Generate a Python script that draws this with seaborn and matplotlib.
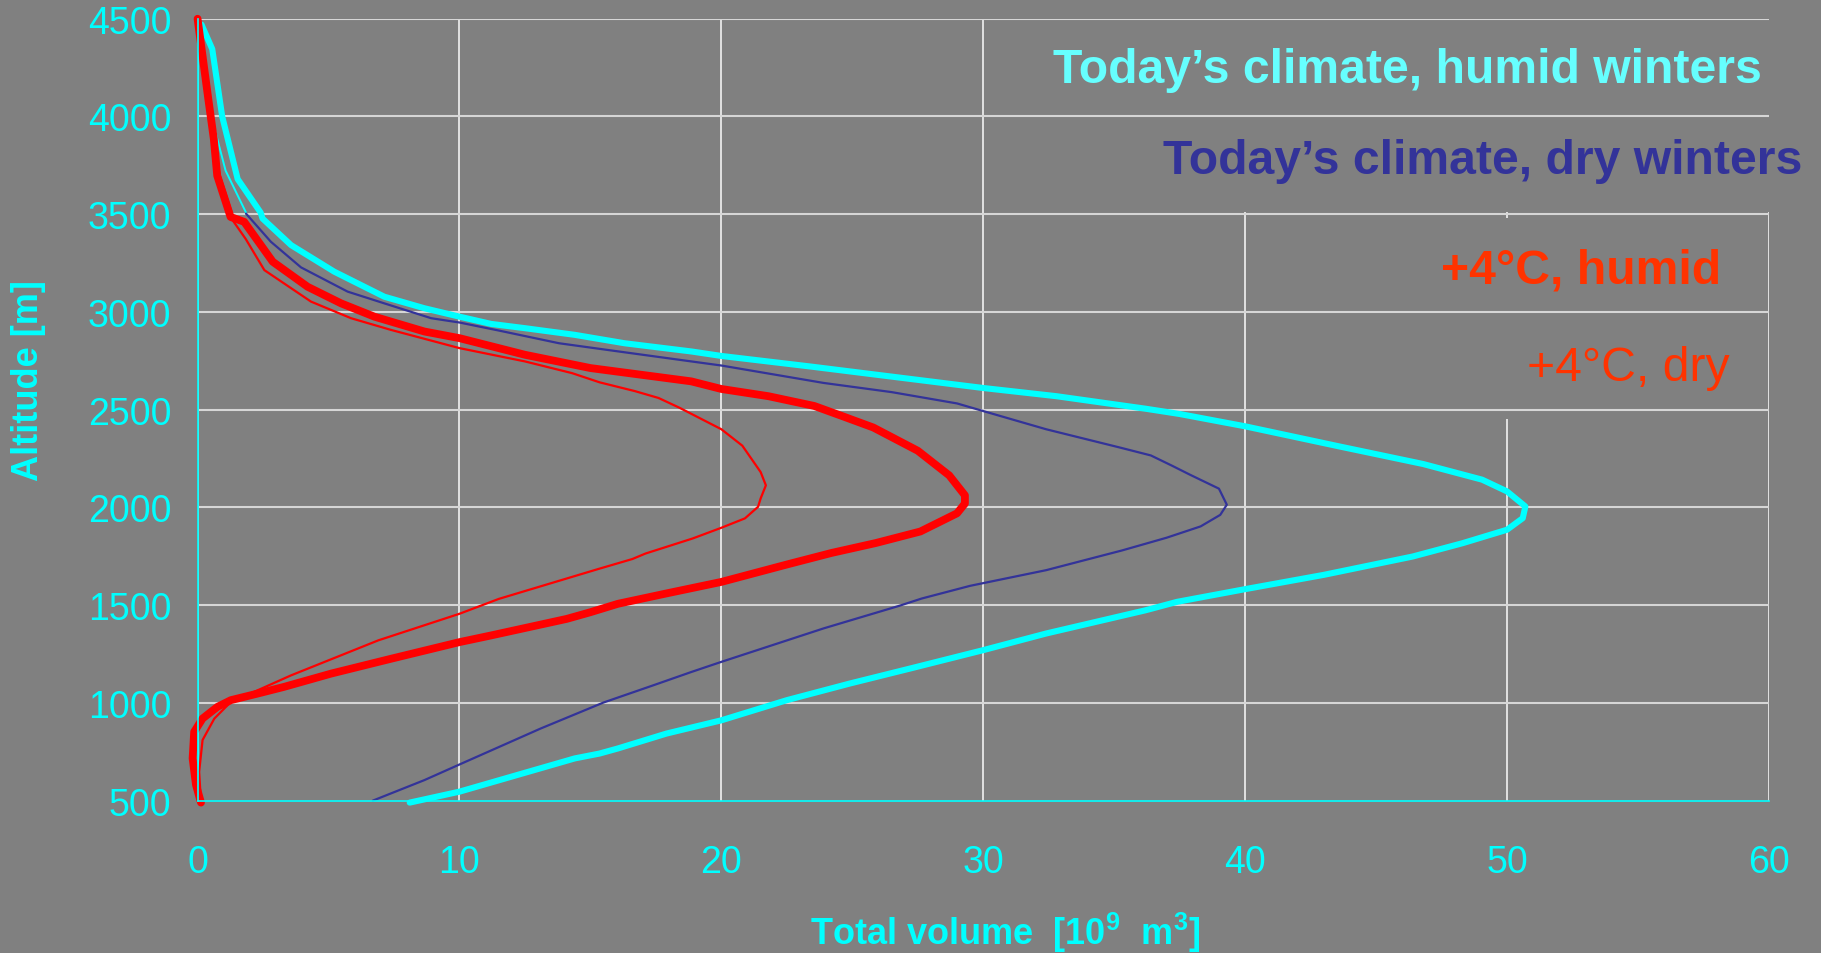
import matplotlib
matplotlib.use("Agg")
import matplotlib.pyplot as plt
import numpy as np
import seaborn as sns

# altitude [m] / total volume [10^9 m3]
humid_alt = [4470, 4345, 4000, 3680, 3508, 3478, 3342, 3206, 3078, 3019, 2976, 2939, 2917,
             2883, 2840, 2798, 2775, 2721, 2611, 2569, 2505, 2478, 2415, 2312, 2222, 2142,
             2082, 2005, 1945, 1886, 1817, 1749, 1655, 1582, 1517, 1474, 1355, 1270, 1179,
             1099, 1014, 911, 843, 767, 741, 716, 546, 490]
humid_vol = [0.15, 0.56, 0.94, 1.53, 2.41, 2.48, 3.57, 5.22, 7.13, 8.66, 10.0, 11.2, 12.5,
             14.4, 16.3, 18.85, 20.0, 23.4, 30.0, 32.8, 36.2, 37.5, 40.0, 43.6, 46.8, 49.05,
             50.0, 50.7, 50.6, 50.0, 48.3, 46.4, 43.0, 40.0, 37.4, 36.2, 32.4, 30.0, 27.3,
             24.9, 22.5, 20.0, 17.9, 16.05, 15.35, 14.4, 10.0, 8.1]

dry_alt = [4470, 3953, 3723, 3511, 3503, 3359, 3228, 3104, 3044, 2968, 2946, 2905, 2840,
           2803, 2747, 2726, 2637, 2590, 2532, 2493, 2400, 2307, 2266, 2214, 2167, 2096,
           2014, 1962, 1903, 1845, 1780, 1679, 1599, 1534, 1497, 1381, 1210, 1158, 1090,
           1002, 869, 685, 605, 500]
dry_vol = [0.12, 0.62, 1.07, 1.84, 1.85, 2.8, 3.95, 5.73, 7.13, 8.92, 10.0, 11.5, 13.8,
           15.8, 18.85, 20.0, 23.9, 26.5, 29.0, 30.0, 32.4, 35.2, 36.4, 37.2, 37.9, 39.0,
           39.3, 39.05, 38.3, 37.0, 35.3, 32.4, 29.5, 27.65, 26.8, 23.9, 20.0, 18.85, 17.4,
           15.5, 13.1, 10.0, 8.66, 6.69]

warm_humid_alt = [4500, 4089, 3885, 3697, 3486, 3461, 3257, 3129, 3044, 2976, 2900, 2866,
                  2781, 2713, 2645, 2606, 2569, 2519, 2468, 2409, 2290, 2164, 2062, 2020,
                  1970, 1877, 1818, 1767, 1708, 1619, 1560, 1507, 1464, 1430, 1345, 1311,
                  1226, 1150, 1082, 1048, 1014, 980, 920, 852, 716, 580, 490]
warm_humid_vol = [0.0, 0.41, 0.62, 0.75, 1.26, 1.78, 2.87, 4.2, 5.48, 6.75, 8.66, 10.0,
                  12.5, 15.0, 18.85, 20.0, 21.8, 23.55, 24.6, 25.8, 27.5, 28.7, 29.3, 29.3,
                  29.0, 27.6, 25.9, 24.2, 22.5, 20.0, 17.9, 16.05, 15.0, 14.1, 11.2, 10.0,
                  7.39, 5.1, 3.3, 2.3, 1.27, 0.76, 0.19, -0.13, -0.19, -0.06, 0.13]

warm_dry_alt = [4500, 4089, 3885, 3697, 3510, 3469, 3373, 3214, 3053, 2968, 2908, 2815,
                2747, 2687, 2640, 2595, 2560, 2510, 2400, 2316, 2181, 2113, 2046, 2003,
                1944, 1896, 1841, 1764, 1736, 1685, 1532, 1456, 1320, 1141, 1065, 1005,
                920, 810, 648, 490]
warm_dry_vol = [0.05, 0.4, 0.6, 0.85, 1.3, 1.34, 1.84, 2.55, 4.33, 5.86, 7.39, 10.0,
                12.5, 14.3, 15.35, 16.7, 17.6, 18.4, 20.0, 20.8, 21.5, 21.7, 21.5, 21.4,
                20.9, 20.0, 18.9, 17.1, 16.6, 15.3, 11.5, 10.0, 6.9, 3.57, 2.3, 1.27,
                0.64, 0.19, 0.06, 0.13]

labels = ["Today\u2019s climate, humid winters", "Today\u2019s climate, dry winters",
          "+4\u00b0C, humid", "+4\u00b0C, dry"]
x_ticks = [0, 10, 20, 30, 40, 50, 60]
y_ticks = [500, 1000, 1500, 2000, 2500, 3000, 3500, 4000, 4500]

gray = "#808080"
cyan = "#00ffff"
sns.set_style("white", rc={"axes.facecolor": gray, "figure.facecolor": gray})
plt.rcParams["font.family"] = ["Liberation Sans", "DejaVu Sans"]
plt.rcParams["mathtext.fontset"] = "custom"
plt.rcParams["mathtext.rm"] = "Liberation Sans:bold"
plt.rcParams["mathtext.bf"] = "Liberation Sans:bold"

fig, ax = plt.subplots(figsize=(18.21, 9.54), dpi=100)
fig.subplots_adjust(left=0.1085, right=0.9714, bottom=0.1597, top=0.9793)

# curves
sns.lineplot(x=warm_dry_vol, y=warm_dry_alt, sort=False, estimator=None,
             color="#ff0000", lw=1.6, ax=ax, clip_on=False)
dry_alt_a = np.array(dry_alt)
dry_vol_a = np.array(dry_vol)
top = dry_alt_a >= 3503
sns.lineplot(x=dry_vol_a[top], y=dry_alt_a[top], sort=False, estimator=None,
             color=cyan, lw=1.4, ax=ax, clip_on=False)
sns.lineplot(x=dry_vol_a[dry_alt_a <= 3503], y=dry_alt_a[dry_alt_a <= 3503], sort=False,
             estimator=None, color="#333399", lw=1.6, ax=ax, clip_on=False)
sns.lineplot(x=humid_vol, y=humid_alt, sort=False, estimator=None,
             color=cyan, lw=4.4, ax=ax, clip_on=False)
sns.lineplot(x=warm_humid_vol, y=warm_humid_alt, sort=False, estimator=None,
             color="#ff0000", lw=5.6, ax=ax, clip_on=False)

ax.set_xlim(0, 60)
ax.set_ylim(500, 4500)
ax.set_xticks(x_ticks)
ax.set_yticks(y_ticks)

# grid: vertical lines sit behind the label boxes, horizontal ones in front
ax.set_axisbelow(True)
ax.grid(axis="x", color="#f2f2f2", lw=1.2)
ax.grid(axis="y", visible=False)
ax.hlines(y_ticks[1:], 0, 60, color="#d6d6d6", lw=1.5, zorder=1.5)

for s in ["top", "right"]:
    ax.spines[s].set_visible(False)
for s in ["left", "bottom"]:
    ax.spines[s].set_color(cyan)
    ax.spines[s].set_linewidth(1.2)

ax.tick_params(axis="both", colors=cyan, labelcolor=cyan, labelsize=27,
               length=12, width=1.2, direction="out")
ax.tick_params(axis="x", pad=19.5)
ax.tick_params(axis="y", pad=7)

fig.text(0.0159, 0.6006, "Altitude [m]", rotation=90, ha="center", va="center",
         color=cyan, fontsize=26, fontweight="bold")
fig.text(0.5519, 0.022, r"Total volume  [10$^{9}$  m$^{3}$]", ha="center", va="center",
         color=cyan, fontsize=26, fontweight="bold")

# series labels in gray boxes
text_colors = ["#66ffff", "#333399", "#ff3300", "#ff3300"]
text_weights = ["bold", "bold", "bold", "normal"]
text_x = [0.9955, 1.021, 0.9696, 0.975]
text_y = [0.9345, 0.8187, 0.679, 0.554]
for lab, c, w, tx, ty in zip(labels, text_colors, text_weights, text_x, text_y):
    ax.text(tx, ty, lab, transform=ax.transAxes, ha="right", va="center",
            color=c, fontsize=34.7, fontweight=w, zorder=1,
            bbox=dict(boxstyle="square,pad=0.6", fc=gray, ec="none"))

fig.savefig("out.png", dpi=100, facecolor=gray)
